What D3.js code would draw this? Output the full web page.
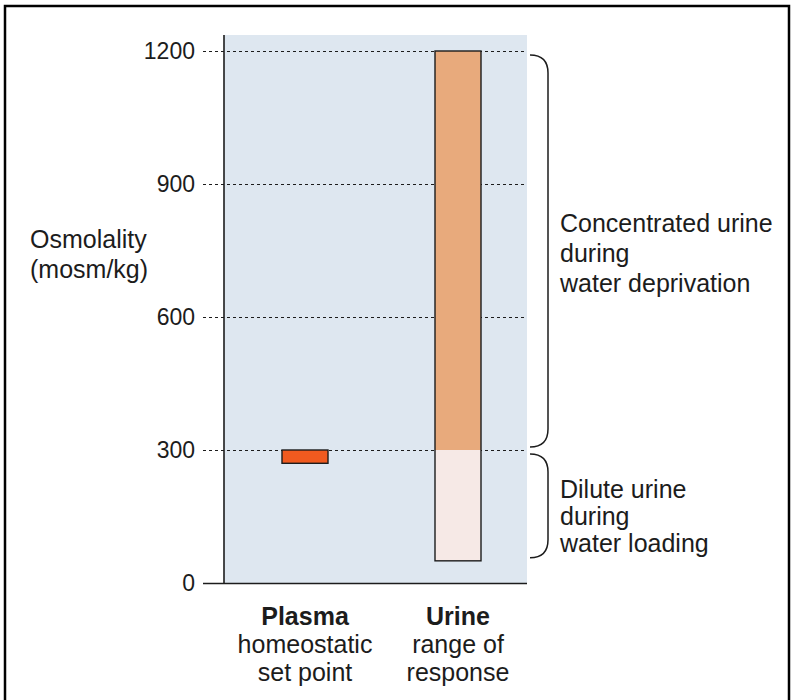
<!DOCTYPE html>
<html>
<head>
<meta charset="utf-8">
<script src="https://cdn.jsdelivr.net/npm/d3@7"></script>
<style>
  html, body { margin: 0; padding: 0; background: #fff; }
  svg { display: block; font-family: "Liberation Sans", Arial, Helvetica, sans-serif; }
</style>
</head>
<body>
<svg id="chart" width="792" height="700"></svg>
<script>
// ---- data ----
const categories = ["Plasma", "Urine"];
const categorySubLabels = [["homeostatic", "set point"], ["range of", "response"]];
const plasmaRange = [270, 300];            // mosm/kg
const urineDiluteRange = [50, 300];        // water loading
const urineConcRange = [300, 1200];        // water deprivation
const yTicks = [0, 300, 600, 900, 1200];
const bracketRanges = [[300, 1200], [50, 300]];
const bracketLabels = [
  ["Concentrated urine", "during", "water deprivation"],
  ["Dilute urine", "during", "water loading"]
];
const yLabelLines = ["Osmolality", "(mosm/kg)"];

// ---- layout ----
const svg = d3.select("#chart");
const plotLeft = 224, plotRight = 527, plotTop = 35, plotBottom = 583;
const tickLeft = 203;
const barW = 46;
const ink = "#1c1c1c";

const y = d3.scaleLinear().domain([0, 1200]).range([plotBottom, 51]);
const x = d3.scalePoint().domain(categories).range([305, 458]);

// frame
svg.append("path")
  .attr("d", "M5,700 L5,6 L789,6 L789,700")
  .attr("fill", "none").attr("stroke", "#000").attr("stroke-width", 2.5);

// plot background
svg.append("rect")
  .attr("x", plotLeft).attr("y", plotTop)
  .attr("width", plotRight - plotLeft).attr("height", plotBottom - plotTop)
  .attr("fill", "#dee7f0");

// axis with gridlines
const axis = d3.axisLeft(y)
  .tickValues(yTicks)
  .tickSize(-(plotRight - tickLeft))
  .tickPadding(8)
  .tickFormat(d3.format("d"));

const gAxis = svg.append("g")
  .attr("transform", `translate(${tickLeft},0)`)
  .call(axis);
gAxis.select(".domain").remove();
gAxis.selectAll(".tick line")
  .attr("stroke", ink)
  .attr("stroke-width", d => d === 0 ? 1.6 : 1.2)
  .attr("stroke-dasharray", d => d === 0 ? null : "3,3");
gAxis.selectAll(".tick text")
  .attr("fill", ink)
  .attr("font-size", 23)
  .attr("font-family", "'Liberation Sans', Arial, sans-serif")
  .attr("x", -8);

// vertical axis line
svg.append("line")
  .attr("x1", plotLeft).attr("x2", plotLeft)
  .attr("y1", plotTop).attr("y2", plotBottom)
  .attr("stroke", ink).attr("stroke-width", 1.6);

// bars
const bars = [
  { cat: "Plasma", lo: plasmaRange[0], hi: plasmaRange[1], fill: "#f05a1f" },
  { cat: "Urine", lo: urineDiluteRange[0], hi: urineDiluteRange[1], fill: "#f6e9e6" },
  { cat: "Urine", lo: urineConcRange[0], hi: urineConcRange[1], fill: "#e8aa7c" }
];
svg.append("g").selectAll("rect").data(bars).join("rect")
  .attr("x", d => x(d.cat) - barW / 2)
  .attr("width", barW)
  .attr("y", d => y(d.hi))
  .attr("height", d => y(d.lo) - y(d.hi))
  .attr("fill", d => d.fill);

// outlines
svg.append("rect")
  .attr("x", x("Plasma") - barW / 2).attr("width", barW)
  .attr("y", y(plasmaRange[1])).attr("height", y(plasmaRange[0]) - y(plasmaRange[1]))
  .attr("fill", "none").attr("stroke", ink).attr("stroke-width", 1.4);
svg.append("rect")
  .attr("x", x("Urine") - barW / 2).attr("width", barW)
  .attr("y", y(urineConcRange[1])).attr("height", y(urineDiluteRange[0]) - y(urineConcRange[1]))
  .attr("fill", "none").attr("stroke", ink).attr("stroke-width", 1.4);

// brackets
const bx0 = 530, bx1 = 548, r = 18;
bracketRanges.forEach((rg, i) => {
  const yt = y(rg[1]) + 4, yb = y(rg[0]) - 3;
  svg.append("path")
    .attr("d", `M${bx0},${yt} Q${bx1},${yt} ${bx1},${yt + r} L${bx1},${yb - r} Q${bx1},${yb} ${bx0},${yb}`)
    .attr("fill", "none").attr("stroke", ink).attr("stroke-width", 1.5);
});

// bracket labels
const labelBaselines = [[232, 262, 292], [498, 525, 552]];
bracketLabels.forEach((lines, i) => {
  svg.append("g").selectAll("text").data(lines).join("text")
    .attr("x", 560)
    .attr("y", (d, j) => labelBaselines[i][j])
    .attr("font-size", 25)
    .attr("fill", ink)
    .text(d => d);
});

// y label
svg.append("g").selectAll("text").data(yLabelLines).join("text")
  .attr("x", 30)
  .attr("y", (d, j) => 248 + j * 30)
  .attr("font-size", 25)
  .attr("fill", ink)
  .text(d => d);

// category labels
categories.forEach((c, i) => {
  const g = svg.append("g").attr("text-anchor", "middle").attr("fill", ink).attr("font-size", 25);
  g.append("text").attr("x", x(c)).attr("y", 625).attr("font-weight", "bold").text(c);
  categorySubLabels[i].forEach((s, j) => {
    g.append("text").attr("x", x(c)).attr("y", 653 + j * 28).text(s);
  });
});
</script>
</body>
</html>
